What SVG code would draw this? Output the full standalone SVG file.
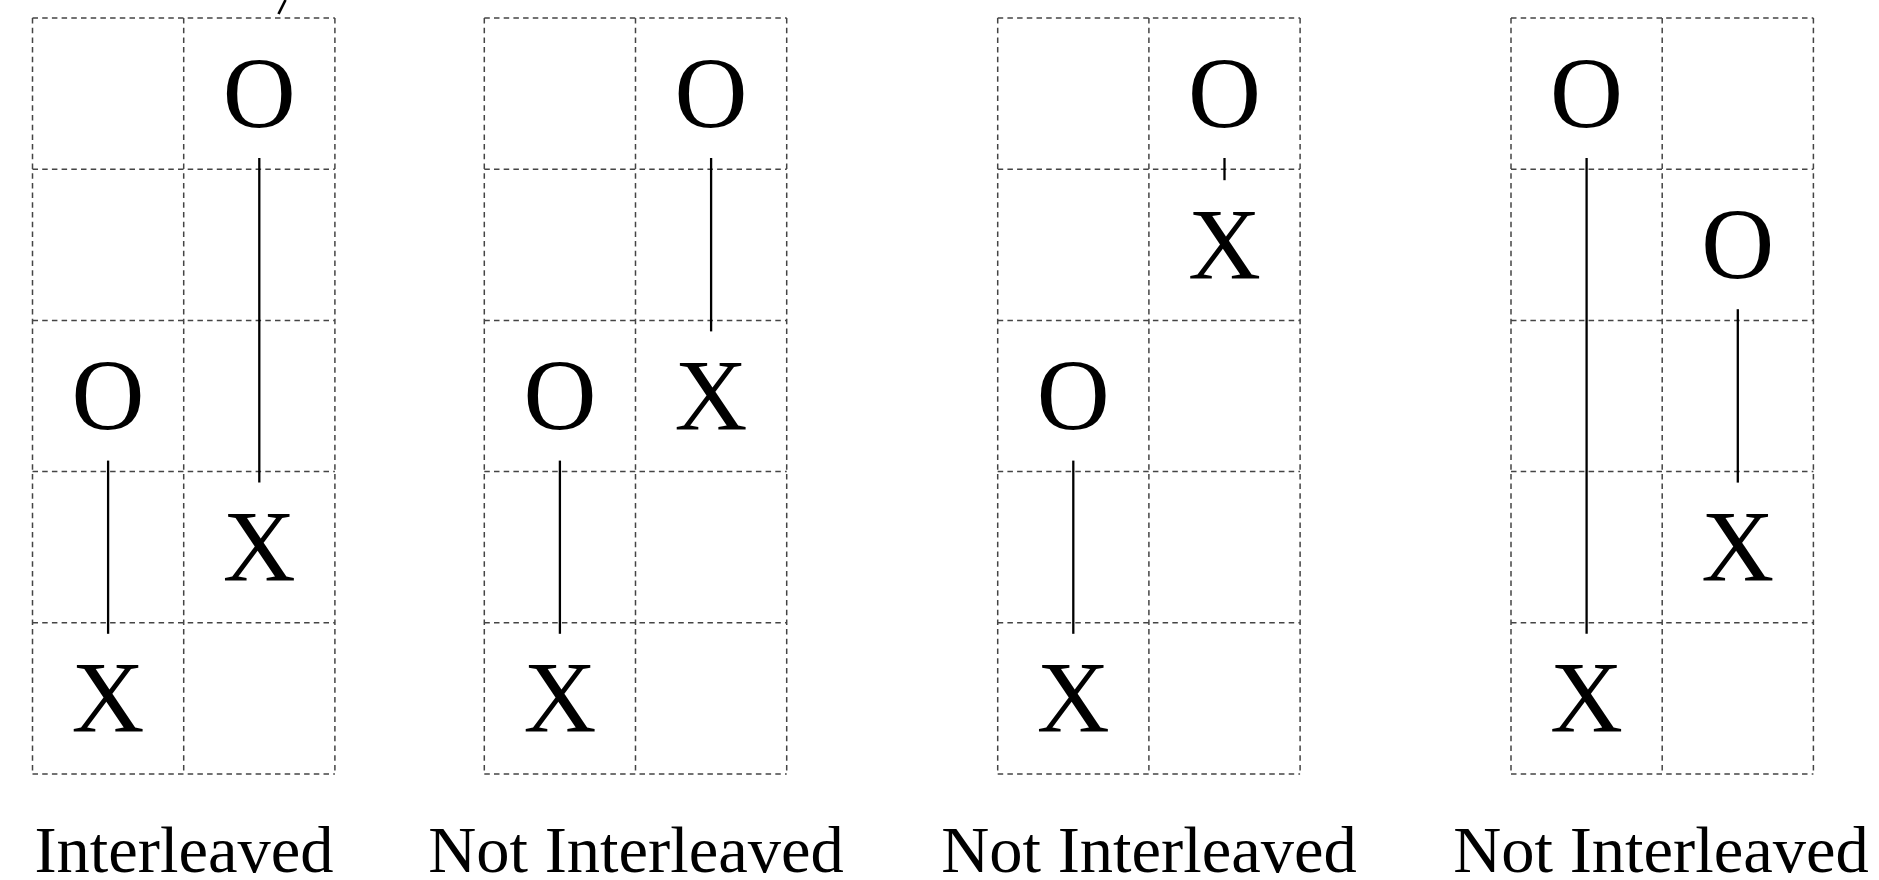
<svg xmlns="http://www.w3.org/2000/svg" width="1879" height="880" viewBox="0 0 1879 880">
<style>
.g{stroke:#444;stroke-width:1.5;stroke-dasharray:5.5 4.2;fill:none}
.c{stroke:#000;stroke-width:2.3;fill:none}
.m{font-family:"Liberation Serif","Times New Roman",serif;font-size:101px;fill:#000;text-anchor:middle}
.l{font-family:"Liberation Serif","Times New Roman",serif;font-size:66.5px;fill:#000;text-anchor:middle}
</style>
<rect width="1879" height="880" fill="#fff"/>
<defs>
<g id="grid">
<path class="g" d="M0,0H302.4M0,151.2H302.4M0,302.4H302.4M0,453.6H302.4M0,604.8H302.4M0,756H302.4M0,0V756M151.2,0V756M302.4,0V756"/>
</g>
</defs>
<g id="grid1" transform="translate(32.5,18)">
<use href="#grid"/>
<text class="m" x="226.8" y="110">O</text>
<text class="m" x="75.6" y="412">O</text>
<text class="m" x="226.8" y="563">X</text>
<text class="m" x="75.6" y="714">X</text>
</g>
<g id="grid2" transform="translate(484.3,18)">
<use href="#grid"/>
<text class="m" x="226.8" y="110">O</text>
<text class="m" x="75.6" y="412">O</text>
<text class="m" x="226.8" y="412">X</text>
<text class="m" x="75.6" y="714">X</text>
</g>
<g id="grid3" transform="translate(997.7,18)">
<use href="#grid"/>
<text class="m" x="226.8" y="110">O</text>
<text class="m" x="226.8" y="261">X</text>
<text class="m" x="75.6" y="412">O</text>
<text class="m" x="75.6" y="714">X</text>
</g>
<g id="grid4" transform="translate(1511,18)">
<use href="#grid"/>
<text class="m" x="75.6" y="110">O</text>
<text class="m" x="226.8" y="261">O</text>
<text class="m" x="226.8" y="563">X</text>
<text class="m" x="75.6" y="714">X</text>
</g>
<g id="connectors">
<line class="c" x1="259.3" y1="158" x2="259.3" y2="482.6"/>
<line class="c" x1="108.1" y1="460.6" x2="108.1" y2="633.8"/>
<line class="c" x1="711.1" y1="158" x2="711.1" y2="331.4"/>
<line class="c" x1="559.9" y1="460.6" x2="559.9" y2="633.8"/>
<line class="c" x1="1224.5" y1="158" x2="1224.5" y2="180.2"/>
<line class="c" x1="1073.3" y1="460.6" x2="1073.3" y2="633.8"/>
<line class="c" x1="1586.6" y1="158" x2="1586.6" y2="633.8"/>
<line class="c" x1="1737.8" y1="309.2" x2="1737.8" y2="482.6"/>
<line x1="285.5" y1="0" x2="278.5" y2="14" stroke="#000" stroke-width="2.6"/>
</g>
<g id="labels">
<text class="l" x="184" y="872">Interleaved</text>
<text class="l" x="636" y="872">Not Interleaved</text>
<text class="l" x="1149" y="872">Not Interleaved</text>
<text class="l" x="1661" y="872">Not Interleaved</text>
</g>
</svg>
